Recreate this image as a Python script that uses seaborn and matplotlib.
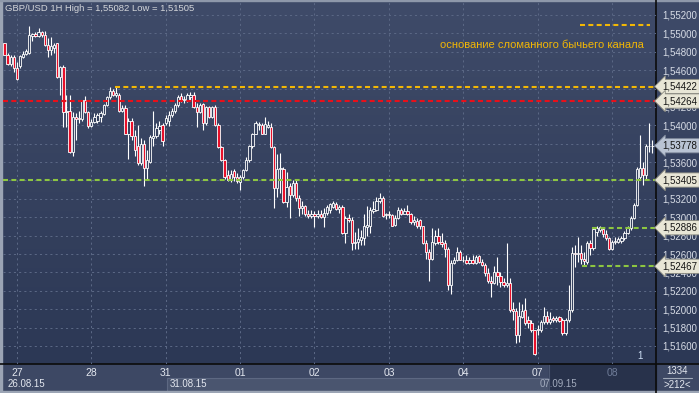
import matplotlib
matplotlib.use("Agg")
import numpy as np
import pandas as pd
import seaborn as sns
import matplotlib.pyplot as plt
from matplotlib.colors import LinearSegmentedColormap
from matplotlib.transforms import blended_transform_factory
from matplotlib.patches import Rectangle

# ---------------- data (GBP/USD, 1H bars) ----------------
opens = [
    1.5489, 1.5476, 1.5467, 1.5474, 1.5462, 1.5464, 1.5474, 1.5478, 1.5479, 1.5497,
    1.5499, 1.5497, 1.5502, 1.5498, 1.5487, 1.5482, 1.5484, 1.5489, 1.5452, 1.5463,
    1.5414, 1.5416, 1.5371, 1.5409, 1.5408, 1.5407, 1.5427, 1.5414, 1.5399, 1.5404,
    1.5405, 1.5409, 1.5412, 1.5422, 1.5431, 1.5437, 1.5433, 1.5433, 1.5416, 1.5419,
    1.5391, 1.5405, 1.5388, 1.5378, 1.5359, 1.5380, 1.5354, 1.5360, 1.5386, 1.5388,
    1.5395, 1.5400, 1.5403, 1.5405, 1.5411, 1.5416, 1.5422, 1.5432, 1.5427, 1.5427,
    1.5431, 1.5433, 1.5420, 1.5414, 1.5423, 1.5402, 1.5420, 1.5409, 1.5420, 1.5400,
    1.5376, 1.5362, 1.5346, 1.5340, 1.5350, 1.5344, 1.5338, 1.5344, 1.5351, 1.5362,
    1.5378, 1.5391, 1.5400, 1.5400, 1.5391, 1.5398, 1.5398, 1.5376, 1.5332, 1.5353,
    1.5353, 1.5317, 1.5334, 1.5324, 1.5337, 1.5321, 1.5310, 1.5312, 1.5304, 1.5301,
    1.5303, 1.5301, 1.5304, 1.5300, 1.5305, 1.5308, 1.5311, 1.5314, 1.5309, 1.5311,
    1.5283, 1.5299, 1.5297, 1.5272, 1.5273, 1.5275, 1.5277, 1.5289, 1.5291, 1.5307,
    1.5308, 1.5318, 1.5321, 1.5302, 1.5303, 1.5302, 1.5292, 1.5299, 1.5308, 1.5304,
    1.5307, 1.5303, 1.5295, 1.5296, 1.5297, 1.5290, 1.5272, 1.5262, 1.5255, 1.5272,
    1.5280, 1.5273, 1.5272, 1.5266, 1.5226, 1.5250, 1.5253, 1.5262, 1.5254, 1.5253,
    1.5250, 1.5253, 1.5250, 1.5258, 1.5251, 1.5248, 1.5239, 1.5231, 1.5228, 1.5240,
    1.5236, 1.5230, 1.5226, 1.5229, 1.5200, 1.5198, 1.5172, 1.5192, 1.5199, 1.5188,
    1.5185, 1.5177, 1.5177, 1.5177, 1.5186, 1.5193, 1.5186, 1.5190, 1.5188, 1.5191,
    1.5188, 1.5174, 1.5188, 1.5199, 1.5261, 1.5260, 1.5261, 1.5255, 1.5251, 1.5272,
    1.5267, 1.5284, 1.5286, 1.5287, 1.5282, 1.5277, 1.5265, 1.5273, 1.5273, 1.5274,
    1.5277, 1.5283, 1.5288, 1.5299, 1.5313, 1.5344, 1.5354, 1.5346, 1.5377, 1.5378,
]
highs = [
    1.5490, 1.5479, 1.5476, 1.5476, 1.5469, 1.5477, 1.5481, 1.5483, 1.55082, 1.5500,
    1.5502, 1.5506, 1.5503, 1.5503, 1.5495, 1.5496, 1.5490, 1.5490, 1.5465, 1.5466,
    1.5433, 1.5433, 1.5414, 1.5413, 1.5416, 1.5428, 1.5432, 1.5416, 1.5407, 1.5413,
    1.5413, 1.5416, 1.5423, 1.5432, 1.5442, 1.5439, 1.5442, 1.5435, 1.5422, 1.5422,
    1.5408, 1.5408, 1.5395, 1.5400, 1.5386, 1.5384, 1.5373, 1.5389, 1.5416, 1.5402,
    1.5405, 1.5402, 1.5411, 1.5416, 1.5419, 1.5424, 1.5433, 1.5435, 1.5432, 1.5435,
    1.5436, 1.5436, 1.5424, 1.5424, 1.5424, 1.5421, 1.5421, 1.5421, 1.5422, 1.5402,
    1.5378, 1.5363, 1.5351, 1.5351, 1.5353, 1.5348, 1.5346, 1.5353, 1.5365, 1.5379,
    1.5392, 1.5405, 1.5404, 1.5402, 1.5409, 1.5405, 1.5402, 1.5377, 1.5369, 1.5370,
    1.5355, 1.5349, 1.5337, 1.5340, 1.5340, 1.5324, 1.5318, 1.5313, 1.5308, 1.5308,
    1.5307, 1.5308, 1.5308, 1.5310, 1.5313, 1.5316, 1.5318, 1.5317, 1.5313, 1.5313,
    1.5301, 1.5304, 1.5300, 1.5284, 1.5288, 1.5286, 1.5304, 1.5312, 1.5311, 1.5318,
    1.5322, 1.5326, 1.5323, 1.5305, 1.5307, 1.5304, 1.5302, 1.5311, 1.5310, 1.5310,
    1.5313, 1.5305, 1.5301, 1.5299, 1.5298, 1.5291, 1.5275, 1.5266, 1.5288, 1.5286,
    1.5288, 1.5283, 1.5275, 1.5268, 1.5253, 1.5257, 1.5268, 1.5264, 1.5258, 1.5259,
    1.5257, 1.5259, 1.5259, 1.5259, 1.5255, 1.5250, 1.5245, 1.5236, 1.5247, 1.5257,
    1.5240, 1.5234, 1.5272, 1.5234, 1.5208, 1.5201, 1.5208, 1.5206, 1.5212, 1.5193,
    1.5188, 1.5177, 1.5183, 1.5188, 1.5202, 1.5198, 1.5197, 1.5193, 1.5193, 1.5193,
    1.5190, 1.5190, 1.5226, 1.5268, 1.5270, 1.5278, 1.5270, 1.5262, 1.5274, 1.5275,
    1.5289, 1.5290, 1.5291, 1.5288, 1.5286, 1.5279, 1.5275, 1.5278, 1.5279, 1.5280,
    1.5285, 1.5291, 1.5301, 1.5315, 1.5355, 1.5389, 1.5360, 1.5380, 1.5403, 1.5384,
]
lows = [
    1.5476, 1.5466, 1.5465, 1.5458, 1.5449, 1.5462, 1.5473, 1.5477, 1.5478, 1.5492,
    1.5496, 1.5496, 1.5496, 1.5486, 1.5474, 1.5477, 1.5479, 1.5451, 1.5433, 1.5398,
    1.5398, 1.5370, 1.5367, 1.5384, 1.5403, 1.5405, 1.5413, 1.5397, 1.5398, 1.5403,
    1.5403, 1.5404, 1.5411, 1.5421, 1.5429, 1.5432, 1.5431, 1.5415, 1.5414, 1.5390,
    1.5363, 1.5384, 1.5367, 1.5357, 1.5357, 1.5334, 1.5342, 1.5359, 1.5378, 1.5386,
    1.5390, 1.5378, 1.5400, 1.5399, 1.5409, 1.5413, 1.5420, 1.5425, 1.5424, 1.5425,
    1.5428, 1.5419, 1.5398, 1.5413, 1.5395, 1.5400, 1.5408, 1.5408, 1.5399, 1.5375,
    1.5361, 1.5342, 1.5339, 1.5338, 1.5339, 1.5337, 1.5330, 1.5342, 1.5350, 1.5360,
    1.5375, 1.5390, 1.5395, 1.5390, 1.5390, 1.5397, 1.5375, 1.5310, 1.5322, 1.5326,
    1.5316, 1.5311, 1.5299, 1.5322, 1.5318, 1.5301, 1.5304, 1.5301, 1.5299, 1.5299,
    1.5289, 1.5299, 1.5299, 1.5289, 1.5302, 1.5305, 1.5310, 1.5308, 1.5305, 1.5282,
    1.5272, 1.5295, 1.5264, 1.5266, 1.5265, 1.5270, 1.5270, 1.5280, 1.5283, 1.5305,
    1.5307, 1.5316, 1.5300, 1.5298, 1.5299, 1.5290, 1.5290, 1.5298, 1.5302, 1.5303,
    1.5302, 1.5293, 1.5292, 1.5288, 1.5287, 1.5271, 1.5255, 1.5231, 1.5253, 1.5270,
    1.5271, 1.5268, 1.5257, 1.5221, 1.5217, 1.5249, 1.5252, 1.5253, 1.5251, 1.5249,
    1.5249, 1.5249, 1.5249, 1.5250, 1.5247, 1.5236, 1.5229, 1.5213, 1.5227, 1.5226,
    1.5224, 1.5224, 1.5224, 1.5197, 1.5188, 1.5163, 1.5164, 1.5190, 1.5183, 1.5180,
    1.5175, 1.51505, 1.5172, 1.5175, 1.5184, 1.5184, 1.5184, 1.5186, 1.5186, 1.5186,
    1.5172, 1.5172, 1.5186, 1.5197, 1.5246, 1.5251, 1.5249, 1.5248, 1.5249, 1.5259,
    1.5264, 1.5280, 1.5284, 1.5279, 1.5275, 1.5264, 1.5264, 1.5271, 1.5272, 1.5272,
    1.5275, 1.5282, 1.5286, 1.5298, 1.5312, 1.5340, 1.5335, 1.5340, 1.5371, 1.5370,
]
closes = [
    1.5476, 1.5467, 1.5474, 1.5462, 1.5450, 1.5475, 1.5478, 1.5481, 1.5498, 1.5499,
    1.5497, 1.5502, 1.5498, 1.5487, 1.5482, 1.5486, 1.5487, 1.5452, 1.5463, 1.5414,
    1.5416, 1.5371, 1.5409, 1.5407, 1.5407, 1.5427, 1.5414, 1.5399, 1.5404, 1.5409,
    1.5411, 1.5413, 1.5422, 1.5431, 1.5437, 1.5433, 1.5435, 1.5416, 1.5419, 1.5391,
    1.5405, 1.5388, 1.5373, 1.5359, 1.5380, 1.5354, 1.5362, 1.5387, 1.5388, 1.5397,
    1.5399, 1.5383, 1.5408, 1.5411, 1.5416, 1.5422, 1.5431, 1.5427, 1.5429, 1.5433,
    1.5433, 1.5420, 1.5414, 1.5422, 1.5402, 1.5420, 1.5409, 1.5420, 1.5400, 1.5376,
    1.5362, 1.5344, 1.5340, 1.5347, 1.5344, 1.5339, 1.5344, 1.5351, 1.5362, 1.5378,
    1.5391, 1.5402, 1.5401, 1.5391, 1.5401, 1.5400, 1.5376, 1.5332, 1.5353, 1.5354,
    1.5317, 1.5333, 1.5324, 1.5337, 1.5321, 1.5310, 1.5312, 1.5303, 1.5301, 1.5303,
    1.5301, 1.5304, 1.5300, 1.5305, 1.5311, 1.5314, 1.5315, 1.5309, 1.5311, 1.5283,
    1.5299, 1.5297, 1.5272, 1.5273, 1.5276, 1.5278, 1.5291, 1.5292, 1.5308, 1.5309,
    1.5318, 1.5321, 1.5301, 1.5303, 1.5302, 1.5291, 1.5299, 1.5308, 1.5304, 1.5307,
    1.5303, 1.5295, 1.5297, 1.5291, 1.5290, 1.5272, 1.5262, 1.5255, 1.5273, 1.5280,
    1.5273, 1.5271, 1.5266, 1.5226, 1.5250, 1.5254, 1.5262, 1.5254, 1.5253, 1.5250,
    1.5253, 1.5250, 1.5257, 1.5251, 1.5248, 1.5239, 1.5231, 1.5228, 1.5240, 1.5236,
    1.5230, 1.5226, 1.5229, 1.5199, 1.5198, 1.5172, 1.5193, 1.5198, 1.5185, 1.5185,
    1.5177, 1.5151, 1.5179, 1.5186, 1.5193, 1.5186, 1.5189, 1.5188, 1.5190, 1.5187,
    1.5174, 1.5188, 1.5199, 1.5261, 1.5260, 1.5261, 1.5255, 1.5252, 1.5272, 1.5267,
    1.5287, 1.5288, 1.5289, 1.5282, 1.5277, 1.5265, 1.5273, 1.5274, 1.5276, 1.5277,
    1.5283, 1.5289, 1.5299, 1.5313, 1.5353, 1.5354, 1.5346, 1.5378, 1.5378, 1.53778,
]

day_labels = ["27", "28", "31", "01", "02", "03", "04", "07", "08"]
day_first_bar = [4, 28, 52, 76, 100, 124, 148, 172, 196]
date_labels = ["26.08.15", "31.08.15", "07.09.15"]
price_ticks = [1.516, 1.518, 1.520, 1.522, 1.524, 1.526, 1.528, 1.530, 1.532,
               1.534, 1.536, 1.538, 1.540, 1.542, 1.544, 1.546, 1.548, 1.550, 1.552]
# tick labels that lie fully under a price tag in the terminal
hidden_tick_labels = [1.534, 1.538, 1.544]

level_values = [1.54422, 1.54264, 1.53405, 1.52886, 1.52467]
level_first_bar = [35.6, -0.5, -0.5, 189.4, 186.4]
level_colors = ["#f2b705", "#e8101a", "#8dc641", "#8dc641", "#8dc641"]

title_text = "GBP/USD 1H High = 1,55082 Low = 1,51505"
note_text = "основание сломанного бычьего канала"

# ---------------- style ----------------
sns.set_theme(style="dark")
plt.rcParams["font.family"] = ["Liberation Sans", "DejaVu Sans"]

W, H = 699, 393
fig = plt.figure(figsize=(W / 100, H / 100), dpi=100)

# background layer in pixel coordinates
bg = fig.add_axes([0, 0, 1, 1], zorder=0)
bg.set_xlim(0, W)
bg.set_ylim(H, 0)
bg.axis("off")
grad = np.linspace(0, 1, 256).reshape(-1, 1)
cmap = LinearSegmentedColormap.from_list("bgc", ["#3f4b69", "#2c3855"])
bg.imshow(grad, extent=[0, W, 364, 0], cmap=cmap, aspect="auto", zorder=0)
bg.add_patch(Rectangle((0, 364), 655.5, 29, color="#3d4864", zorder=1))
bg.add_patch(Rectangle((166.5, 377.5), 383, 14, fc="#4a556f", ec="#5d6882", lw=0.8, zorder=2))
bg.add_patch(Rectangle((549, 364), 106.5, 29, color="#28324b", zorder=3))
bg.plot([549, 549], [364, 393], color="#4b5670", lw=0.8, zorder=3)
bg.add_patch(Rectangle((656, 364), 43, 29, color="#3d4864", zorder=1))
# frame
bg.add_patch(Rectangle((0, 0), 2.2, H, color="#9ba4b4", zorder=5))
bg.add_patch(Rectangle((0, 0), W, 1.0, color="#8e98aa", zorder=5))
bg.add_patch(Rectangle((0, 391.2), W, 1.8, color="#9ba4b4", zorder=5))
bg.plot([655.5, 655.5], [0, 393], color="#0b0b0b", lw=1.2, zorder=6)
bg.plot([0, W], [364, 364], color="#0b0b0b", lw=1.2, zorder=6)

# bottom texts
bg.text(8, 384, date_labels[0], color="#e3e7ef", fontsize=7, va="center", ha="left", zorder=7)
bg.text(170, 384, date_labels[1], color="#e3e7ef", fontsize=7, va="center", ha="left", zorder=7)
bg.text(540, 384, date_labels[2], color="#a2abbd", fontsize=7, va="center", ha="left", zorder=7)
bg.text(677.5, 371.5, "1334", color="#e3e7ef", fontsize=7, va="center", ha="center", zorder=7)
bg.plot([663, 692], [378, 378], color="#a0a9b8", lw=0.8, zorder=7)
bg.text(677.5, 385, ">212<", color="#e3e7ef", fontsize=7, va="center", ha="center", zorder=7)

# ---------------- main chart ----------------
ax = fig.add_axes([3 / W, 1 - 364 / H, (655.5 - 3) / W, 362 / H], zorder=1)
ax.patch.set_alpha(0)
for s in ax.spines.values():
    s.set_visible(False)
ax.set_xlim(-0.48, 210.0)
ax.set_ylim(1.51404, 1.55341)

ax.set_xticks(day_first_bar)
ax.set_xticklabels(day_labels)
ax.set_yticks(price_ticks)
ax.set_yticklabels(["" if any(abs(v - h) < 1e-9 for h in hidden_tick_labels)
                    else f"{v:.5f}".replace(".", ",") for v in price_ticks])
ax.yaxis.tick_right()
ax.tick_params(axis="y", length=0, pad=4.6, labelsize=7, labelcolor="#d7dce6")
ax.tick_params(axis="x", length=0, pad=2.6, labelsize=7.5, labelcolor="#e3e7ef")
ax.get_xticklabels()[-1].set_color("#6f7c98")
ax.grid(True, color="#5a6784", lw=0.75, linestyle=(0, (2, 3)))
ax.set_axisbelow(True)

df = pd.DataFrame({"open": opens, "high": highs, "low": lows, "close": closes})
df["bar"] = np.arange(len(df))
up = df["close"] >= df["open"]

ax.vlines(df["bar"], df["low"], df["high"], color="white", lw=0.8, zorder=2)
ax.bar(df["bar"], (df["close"] - df["open"]).abs(),
       bottom=df[["open", "close"]].min(axis=1), width=0.72,
       color=np.where(up, "#36425f", "#e8102a"), edgecolor="white",
       linewidth=0.6, zorder=3)

for v, s, c in zip(level_values, level_first_bar, level_colors):
    ax.hlines(v, s, 210.0, color=c, lw=1.5, linestyles=[(0, (2.4, 1.6))], zorder=4)

# price tags
trans = blended_transform_factory(ax.transAxes, ax.transData)
tag_values = level_values + [closes[-1]]
for v in tag_values:
    current = v == closes[-1]
    ax.text(1.0105, v, f"{v:.5f}".replace(".", ","), transform=trans,
            ha="left", va="center", fontsize=7, color="#151515",
            bbox=dict(boxstyle="larrow,pad=0.22",
                      fc="#b9c3d3" if current else "#e8e6d6",
                      ec="#7d8799" if current else "#8a8a80", lw=0.6),
            clip_on=False, zorder=6)

# annotations
ax.text(0.003, 0.983, title_text, transform=ax.transAxes, ha="left", va="center",
        fontsize=6.8, color="#d4d6da", zorder=6)
ax.plot([0.884, 0.9916], [0.9365, 0.9365], transform=ax.transAxes, color="#f2b705",
        lw=1.5, linestyle=(0, (2.4, 1.6)), zorder=5)
ax.text(0.982, 0.881, note_text, transform=ax.transAxes, ha="right", va="center",
        fontsize=8, color="#f2b705", zorder=6)
ax.text(0.976, 0.022, "1", transform=ax.transAxes, ha="center", va="center",
        fontsize=7, color="#cfe0f5", zorder=6)

fig.savefig("out.png", dpi=100)
